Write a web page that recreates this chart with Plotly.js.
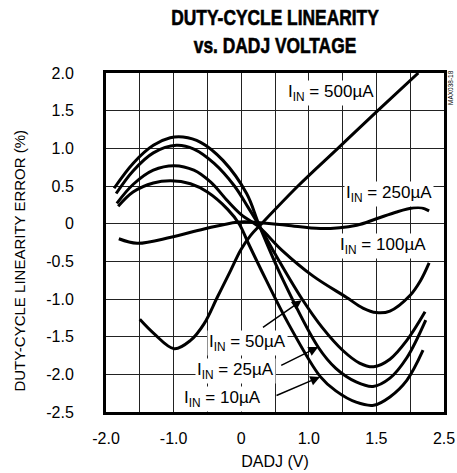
<!DOCTYPE html>
<html>
<head>
<meta charset="utf-8">
<script src="https://cdn.plot.ly/plotly-3.0.1.min.js"></script>
<style>html,body{margin:0;padding:0;background:#fff;}</style>
</head>
<body>
<div id="chart" style="width:457px;height:473px;"></div>
<script>
// Tick labels (as printed on the original chart; grid every half unit)
const xTickVals = [-2, -1, 0, 1, 2, 3];
const xTickText = ['-2.0', '-1.0', '0', '1.0', '1.5', '2.5'];
const yTickVals = [2, 1.5, 1, 0.5, 0, -0.5, -1, -1.5, -2, -2.5];
const yTickText = ['2.0', '1.5', '1.0', '0.5', '0', '-0.5', '-1.0', '-1.5', '-2.0', '-2.5'];

// Series (x in grid units of the printed axis, y = linearity error %)
const x500 = [-1.50, -1.29, -0.99, -0.75, -0.55, -0.35, -0.155, -0.007, 0.14, 0.28, 0.84, 1.43, 2.02, 2.62];
const y500 = [-1.27, -1.46, -1.66, -1.55, -1.33, -0.97, -0.62, -0.35, -0.155, -0.02, 0.50, 1.00, 1.50, 2.00];

const x250 = [-1.81, -1.54, -1.04, -0.55, -0.06, 0.19, 0.67, 1.17, 1.71, 2.00, 2.30, 2.55, 2.67, 2.78];
const y250 = [-0.20, -0.26, -0.18, -0.07, 0.02, 0.02, -0.02, -0.065, -0.02, 0.065, 0.155, 0.21, 0.21, 0.17];

const x100 = [-1.84, -1.6, -1.3, -0.99, -0.7, -0.45, -0.2, 0.0, 0.27, 0.6, 1.07, 1.56, 1.8, 2.0, 2.2, 2.5, 2.65, 2.78];
const y100 = [0.27, 0.52, 0.71, 0.77, 0.71, 0.55, 0.30, 0.12, -0.05, -0.35, -0.70, -0.98, -1.12, -1.18, -1.16, -0.95, -0.76, -0.52];

const x50 = [-1.85, -1.6, -1.3, -0.96, -0.7, -0.4, -0.1, 0.1, 0.27, 0.5, 0.9, 1.2, 1.5, 1.75, 1.96, 2.2, 2.45, 2.72];
const y50 = [0.40, 0.70, 0.94, 1.04, 0.99, 0.80, 0.50, 0.22, -0.03, -0.40, -1.00, -1.38, -1.68, -1.85, -1.90, -1.80, -1.55, -1.17];

const x25 = [-1.88, -1.6, -1.3, -1.05, -0.86, -0.6, -0.27, 0.08, 0.27, 0.62, 1.14, 1.4, 1.7, 1.95, 2.2, 2.45, 2.73];
const y25 = [0.47, 0.80, 1.04, 1.14, 1.15, 1.08, 0.84, 0.40, -0.03, -0.75, -1.64, -1.92, -2.10, -2.16, -2.05, -1.78, -1.28];

const x10 = [-1.82, -1.6, -1.3, -1.04, -0.75, -0.5, -0.2, -0.025, 0.10, 0.37, 0.7, 1.17, 1.4, 1.7, 1.96, 2.2, 2.45, 2.69];
const y10 = [0.23, 0.42, 0.54, 0.57, 0.53, 0.42, 0.19, -0.01, -0.25, -0.75, -1.33, -2.03, -2.22, -2.37, -2.41, -2.30, -2.08, -1.68];

const seriesNames = ['I_IN = 500µA', 'I_IN = 250µA', 'I_IN = 100µA', 'I_IN = 50µA', 'I_IN = 25µA', 'I_IN = 10µA'];
const seriesX = [x500, x250, x100, x50, x25, x10];
const seriesY = [y500, y250, y100, y50, y25, y10];

const FONT = 'Liberation Sans, Arial, Helvetica, sans-serif';

const traces = seriesX.map((xs, i) => ({
  x: xs, y: seriesY[i], name: seriesNames[i], type: 'scatter', mode: 'lines',
  line: {color: '#000', width: 3, shape: 'spline', smoothing: 1},
  hoverinfo: 'skip'
}));

function label(txt, x, y) {
  return {text: txt, x: x, y: y, xref: 'x', yref: 'y', showarrow: false,
    xanchor: 'center', yanchor: 'middle', bgcolor: '#fff', borderpad: 1,
    font: {family: FONT, size: 17, color: '#000'}};
}
function arrow(tx, ty, ax, ay) {
  return {text: '', x: tx, y: ty, ax: ax, ay: ay, xref: 'x', yref: 'y', axref: 'x', ayref: 'y',
    showarrow: true, arrowhead: 2, arrowsize: 1.3, arrowwidth: 1.5, arrowcolor: '#000', standoff: 0, startstandoff: 0};
}

const annotations = [
  label('I<sub>IN</sub> = 500µA', 1.33, 1.74),
  label('I<sub>IN</sub> = 250µA', 2.19, 0.40),
  label('I<sub>IN</sub> = 100µA', 2.10, -0.30),
  label('I<sub>IN</sub> = 50µA', 0.09, -1.59),
  label('I<sub>IN</sub> = 25µA', -0.08, -1.96),
  label('I<sub>IN</sub> = 10µA', -0.28, -2.33),
  arrow(0.895, -1.018, 0.30, -1.39),
  arrow(1.14, -1.637, 0.57, -1.89),
  arrow(1.166, -2.034, 0.50, -2.29),
  {text: 'DUTY-CYCLE LINEARITY ERROR (%)', x: -0.257, y: 0.447, xref: 'paper', yref: 'paper',
   showarrow: false, textangle: -90, xanchor: 'center', yanchor: 'middle',
   font: {family: FONT, size: 15, color: '#000'}},
  {text: 'MAX038-18', x: 1.021, y: 0.956, xref: 'paper', yref: 'paper', showarrow: false,
   textangle: -90, xanchor: 'center', yanchor: 'middle', font: {family: FONT, size: 6.5, color: '#000'}}
];

const layout = {
  width: 457, height: 473,
  margin: {l: 106, r: 13, t: 73, b: 61, pad: 0},
  paper_bgcolor: '#fff', plot_bgcolor: '#fff',
  showlegend: false,
  title: {text: 'DUTY-CYCLE LINEARITY<br>vs. DADJ VOLTAGE', x: 0.5, xref: 'paper', xanchor: 'center',
    y: 0.948, yref: 'container', yanchor: 'top',
    font: {family: FONT, size: 22, color: '#000', weight: 'bold'}},
  xaxis: {range: [-2, 3], tickmode: 'array', tickvals: xTickVals, ticktext: xTickText,
    showgrid: true, gridcolor: '#222', gridwidth: 1, zeroline: false,
    minor: {tick0: -2, dtick: 0.5, showgrid: true, gridcolor: '#222', gridwidth: 1, ticks: ''},
    showline: true, mirror: true, linecolor: '#000', linewidth: 3,
    ticks: '', ticklabelstandoff: 10, tickfont: {family: FONT, size: 16, color: '#000'},
    title: {text: 'DADJ (V)', font: {family: FONT, size: 16, color: '#000'}, standoff: 10},
    fixedrange: true},
  yaxis: {range: [-2.5, 2], tickmode: 'array', tickvals: yTickVals, ticktext: yTickText,
    showgrid: true, gridcolor: '#222', gridwidth: 1, zeroline: false,
    showline: true, mirror: true, linecolor: '#000', linewidth: 3,
    ticks: '', ticklabelstandoff: 26, tickfont: {family: FONT, size: 16, color: '#000'},
    fixedrange: true},
  annotations: annotations
};

Plotly.newPlot('chart', traces, layout, {displayModeBar: false, staticPlot: true}).then(function (gd) {
  // condensed title face: squeeze the real title text horizontally around its centre
  gd.querySelectorAll('.gtitle').forEach(function (t) {
    const bb = t.getBBox();
    const cx = bb.x + bb.width / 2;
    t.setAttribute('transform', 'translate(' + cx + ',0) scale(0.79,1) translate(' + (-cx) + ',0)');
    t.style.strokeWidth = '0.6px';
    t.style.stroke = '#000';
  });
});
</script>
</body>
</html>
